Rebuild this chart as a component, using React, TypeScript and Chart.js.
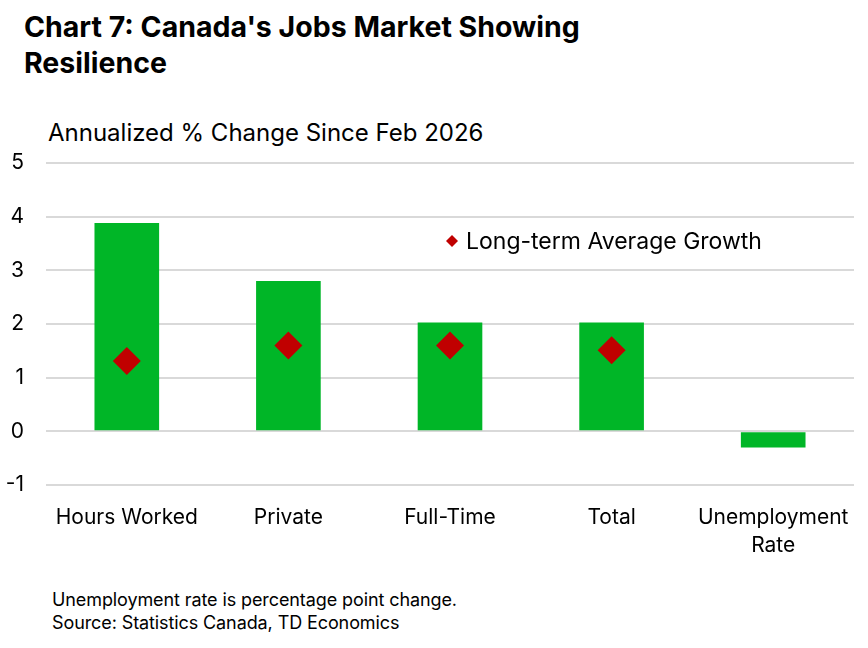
import { useEffect, useRef } from "react";
import { Chart, registerables, type ChartConfiguration, type Plugin } from "chart.js";

Chart.register(...registerables);

const categories: (string | string[])[] = ["Hours Worked", "Private", "Full-Time", "Total", ["Unemployment", "Rate"]];
const changeSinceFeb = [3.88, 2.8, 2.03, 2.03, -0.3];
const longTermAverage: (number | null)[] = [1.31, 1.6, 1.6, 1.51, null];
const yTicks = [-1, 0, 1, 2, 3, 4, 5];

const FONT = "Inter, 'Open Sans', sans-serif";
const GREEN = "#00b627";
const RED = "#c00000";

// draws the single legend entry inside the plot area
const legendPlugin: Plugin<"bar"> = {
  id: "insideLegend",
  afterDraw(chart) {
    const ds = chart.data.datasets[1];
    const { ctx, chartArea } = chart;
    const x = chartArea.left + 406;
    const y = chartArea.top + 78;
    ctx.save();
    ctx.fillStyle = RED;
    ctx.beginPath();
    ctx.moveTo(x, y - 6);
    ctx.lineTo(x + 6, y);
    ctx.lineTo(x, y + 6);
    ctx.lineTo(x - 6, y);
    ctx.closePath();
    ctx.fill();
    ctx.fillStyle = "#000";
    ctx.font = `23px ${FONT}`;
    ctx.textBaseline = "middle";
    ctx.fillText(String(ds.label), x + 14, y + 1);
    ctx.restore();
  },
};

function JobsChart() {
  const canvasRef = useRef<HTMLCanvasElement>(null);
  const chartRef = useRef<Chart | null>(null);

  useEffect(() => {
    if (!canvasRef.current) return;
    if (chartRef.current) chartRef.current.destroy();

    const config: ChartConfiguration<"bar"> = {
      type: "bar",
      data: {
        labels: categories,
        datasets: [
          {
            label: "Annualized % Change Since Feb 2026",
            data: changeSinceFeb,
            backgroundColor: GREEN,
            borderWidth: 0,
            categoryPercentage: 1,
            barPercentage: 0.4,
            order: 2,
          },
          {
            type: "line" as any,
            label: "Long-term Average Growth",
            data: longTermAverage as any,
            showLine: false,
            pointStyle: "rectRot",
            pointRadius: 14,
            pointBackgroundColor: RED,
            pointBorderWidth: 0,
            order: 1,
          } as any,
        ],
      },
      options: {
        animation: false,
        responsive: false,
        devicePixelRatio: 1,
        layout: { padding: { top: 18, right: 12, left: 0, bottom: 0 } },
        plugins: {
          legend: { display: false },
          tooltip: { enabled: false },
        },
        scales: {
          x: {
            grid: { display: false },
            border: { display: false },
            ticks: {
              color: "#000",
              font: { family: FONT, size: 21, lineHeight: 1.33 },
              padding: 11,
              maxRotation: 0,
            },
            afterFit(scale) {
              scale.height = 80;
            },
          },
          y: {
            min: yTicks[0],
            max: yTicks[yTicks.length - 1],
            afterBuildTicks(scale) {
              scale.ticks = yTicks.map((v) => ({ value: v }));
            },
            grid: { color: "#d9d9d9", lineWidth: 2, drawTicks: false },
            border: { display: false },
            ticks: {
              color: "#000",
              font: { family: FONT, size: 21 },
              padding: 22,
            },
            afterFit(scale) {
              scale.width = 46;
              (scale as any).paddingTop = 0;
              (scale as any).paddingBottom = 0;
            },
          },
        },
      },
      plugins: [legendPlugin],
    };

    chartRef.current = new Chart(canvasRef.current, config);
    return () => {
      chartRef.current?.destroy();
      chartRef.current = null;
    };
  }, []);

  return <canvas ref={canvasRef} width={868} height={420} style={{ position: "absolute", left: 0, top: 145 }} />;
}

export default function App() {
  return (
    <div
      style={{
        position: "fixed",
        left: 0,
        top: 0,
        width: 868,
        height: 648,
        background: "#fff",
        fontFamily: FONT,
        color: "#000",
      }}
    >
      <div
        style={{
          position: "absolute",
          left: 24,
          top: 9,
          fontSize: 28.5,
          fontWeight: 700,
          lineHeight: "36px",
          width: 640,
        }}
      >
        Chart 7: Canada's Jobs Market Showing
        <br />
        Resilience
      </div>
      <div style={{ position: "absolute", left: 48, top: 118, fontSize: 24 }}>
        Annualized % Change Since Feb 2026
      </div>
      <JobsChart />
      <div
        style={{
          position: "absolute",
          left: 52,
          top: 588,
          fontSize: 18,
          letterSpacing: -0.1,
          lineHeight: "23px",
        }}
      >
        Unemployment rate is percentage point change.
        <br />
        Source: Statistics Canada, TD Economics
      </div>
    </div>
  );
}
